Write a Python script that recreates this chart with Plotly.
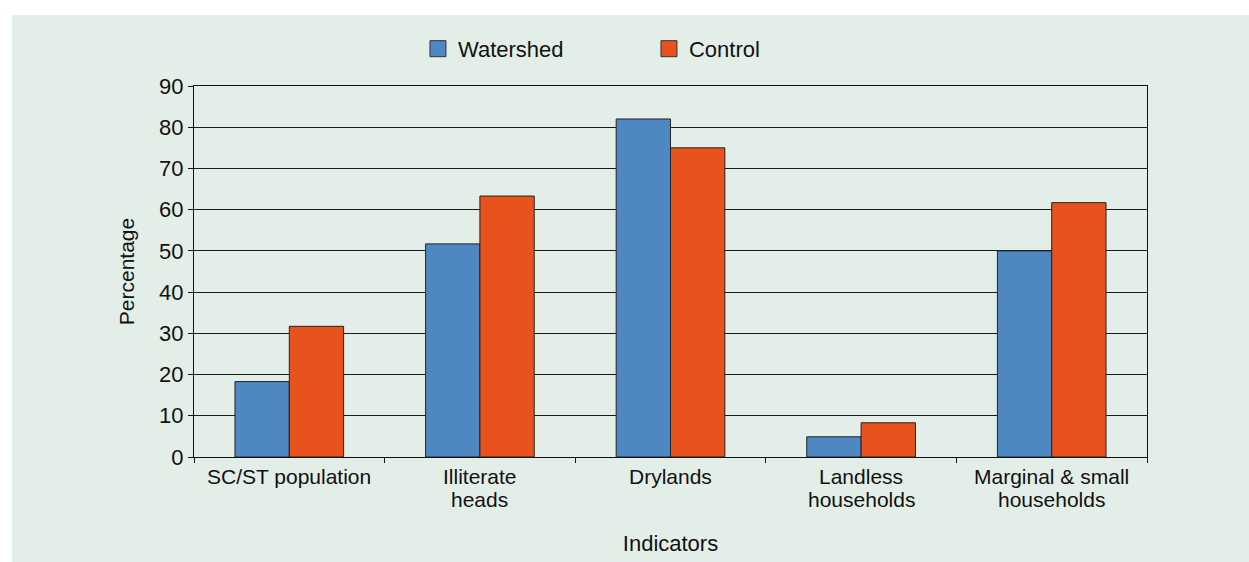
import plotly.graph_objects as go

# Indicator categories (line breaks mark the wrapped axis labels)
categories = [
    "SC/ST population",
    "Illiterate<br>heads",
    "Drylands",
    "Landless<br>households",
    "Marginal & small<br>households",
]
watershed = [18.3, 51.7, 82.0, 4.9, 50.0]
control = [31.7, 63.3, 75.0, 8.3, 61.7]
y_ticks = [0, 10, 20, 30, 40, 50, 60, 70, 80, 90]

BLUE = "#4f87c3"
ORANGE = "#e8521c"
PANEL = "#e4eee8"
FONT = "Liberation Sans, Arial, Helvetica, sans-serif"

W, H = 1249, 562
ML, MR, MT, MB = 194, 102, 86, 105
pw, ph = W - ML - MR, H - MT - MB

fig = go.Figure()

fig.add_trace(go.Bar(
    x=categories, y=watershed, name="Watershed",
    marker=dict(color=BLUE, line=dict(color="#222222", width=1)),
    showlegend=False,
))
fig.add_trace(go.Bar(
    x=categories, y=control, name="Control",
    marker=dict(color=ORANGE, line=dict(color="#222222", width=1)),
    showlegend=False,
))

# legend entries with larger square swatches
for name, col in [("Watershed", BLUE), ("Control", ORANGE)]:
    fig.add_trace(go.Scatter(
        x=[None], y=[None], mode="markers", name=name,
        marker=dict(symbol="square", size=16, color=col,
                    line=dict(color="#333333", width=1)),
    ))

# white page strips along the top and left of the green panel
fig.add_shape(
    type="rect", xref="paper", yref="paper", layer="below",
    x0=-(ML + 10) / pw, x1=(W + 10 - ML) / pw,
    y0=(H - MB - 15) / ph, y1=(H - MB + 10) / ph,
    fillcolor="white", line=dict(width=0),
)
fig.add_shape(
    type="rect", xref="paper", yref="paper", layer="below",
    x0=-(ML + 10) / pw, x1=(12 - ML) / pw,
    y0=-(MB + 10) / ph, y1=(H - MB + 10) / ph,
    fillcolor="white", line=dict(width=0),
)

# wrapped category labels, one annotation per line
for cat in categories:
    for i, line in enumerate(cat.split("<br>")):
        fig.add_annotation(
            x=cat, xref="x", y=0, yref="paper",
            text=line, showarrow=False,
            yanchor="middle", yshift=-19 - 23 * i,
            font=dict(size=21, color="#111111", family=FONT),
        )

fig.update_layout(
    width=W, height=H,
    margin=dict(l=ML, r=MR, t=MT, b=MB, autoexpand=False),
    paper_bgcolor=PANEL,
    plot_bgcolor=PANEL,
    font=dict(family=FONT, color="#111111"),
    barmode="group",
    bargap=0.43,
    bargroupgap=0,
    legend=dict(
        orientation="h", x=0.235, xanchor="left", y=1.1, yanchor="middle",
        font=dict(size=22, color="#111111"),
        bgcolor="rgba(0,0,0,0)", entrywidth=186, entrywidthmode="pixels",
    ),
    xaxis=dict(
        showticklabels=False,
        ticks="outside", ticklen=5, tickcolor="#111111", tickson="boundaries",
        showline=True, linecolor="#111111", linewidth=1, mirror=True,
        showgrid=False,
        title=dict(text="Indicators", font=dict(size=22, color="#111111"),
                   standoff=78),
    ),
    yaxis=dict(
        range=[0, 90], tickvals=y_ticks,
        ticks="outside", ticklen=5, tickcolor="#111111",
        tickfont=dict(size=22, color="#111111"),
        showline=True, linecolor="#111111", linewidth=1, mirror=True,
        showgrid=True, gridcolor="#1a1a1a", gridwidth=1, zeroline=False,
        title=dict(text="Percentage", font=dict(size=21, color="#111111"),
                   standoff=18),
    ),
)

fig.write_html("out.html")
